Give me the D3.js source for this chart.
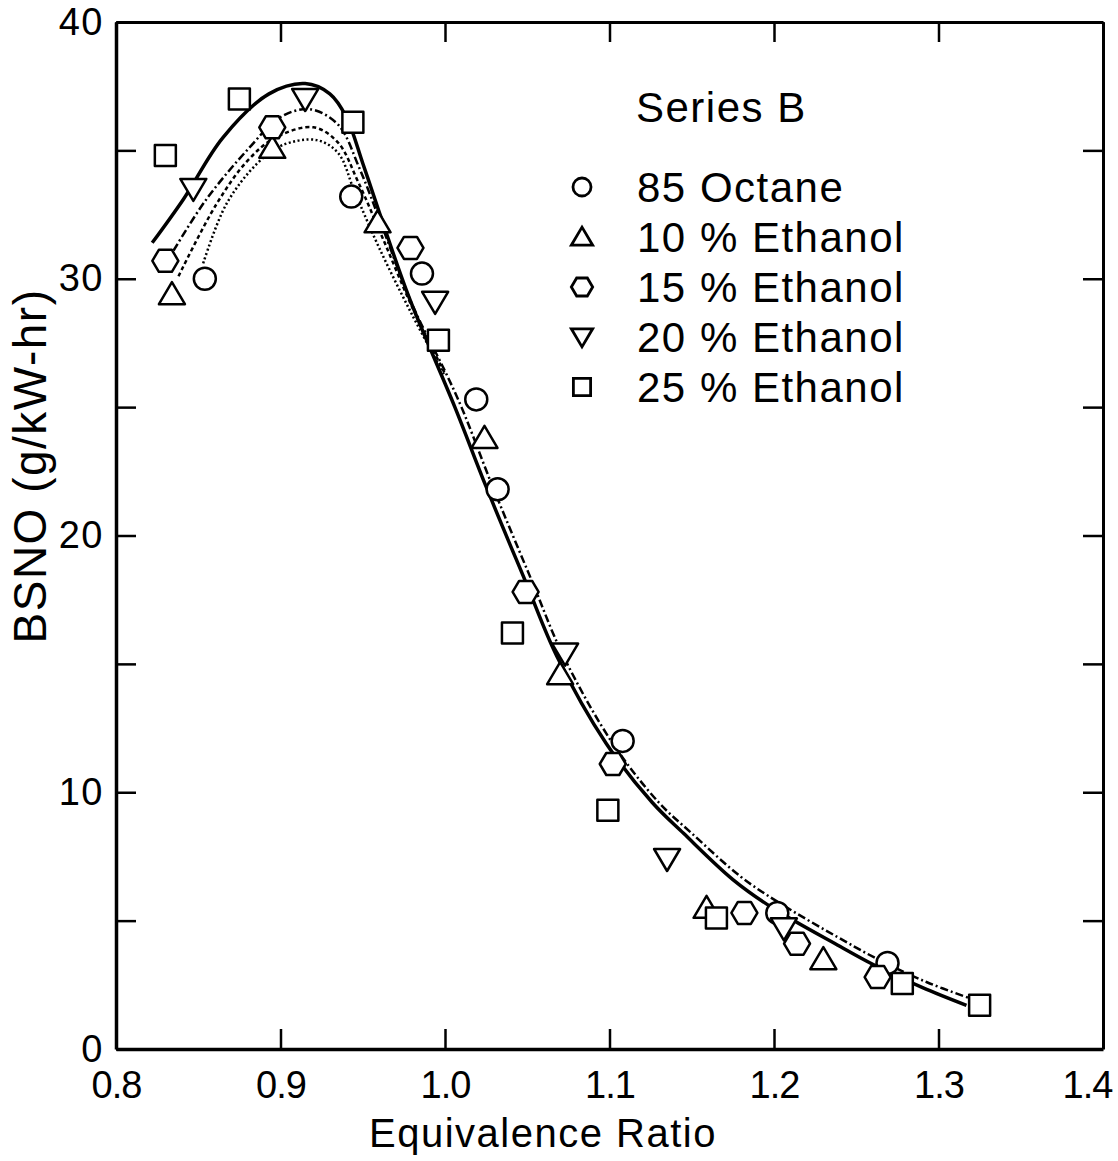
<!DOCTYPE html>
<html>
<head>
<meta charset="utf-8">
<script src="https://cdn.jsdelivr.net/npm/d3@7"></script>
<style>
	body { margin: 0; background: #fff; }
	svg { display: block; font-family: "Liberation Sans", "DejaVu Sans", sans-serif; }
	.axis path, .axis line { stroke: #000; }
	.axis text { fill: #000; }
</style>
</head>
<body>
<svg id="chart" width="1118" height="1161"></svg>
<script>
(function () {
	//DATA (equivalence ratio, BSNO g/kW-hr)
	var seriesNames = ["85 Octane", "10 % Ethanol", "15 % Ethanol", "20 % Ethanol", "25 % Ethanol"];
	var seriesShapes = ["circle", "triangle", "hexagon", "invtriangle", "square"];

	var octane = [[0.854, 30.0], [0.943, 33.2], [0.986, 30.2], [1.019, 25.3], [1.032, 21.8], [1.108, 12.0], [1.202, 5.3], [1.269, 3.35]];
	var ethanol10 = [[0.834, 29.4], [0.895, 35.1], [0.959, 32.2], [1.024, 23.8], [1.070, 14.6], [1.159, 5.5], [1.230, 3.5]];
	var ethanol15 = [[0.830, 30.7], [0.895, 35.9], [0.979, 31.2], [1.049, 17.8], [1.102, 11.1], [1.182, 5.3], [1.214, 4.1], [1.263, 2.8]];
	var ethanol20 = [[0.847, 33.5], [0.915, 37.0], [0.994, 29.1], [1.073, 15.4], [1.135, 7.4], [1.206, 4.7]];
	var ethanol25 = [[0.830, 34.8], [0.875, 37.0], [0.944, 36.1], [0.996, 27.6], [1.041, 16.2], [1.099, 9.3], [1.165, 5.1], [1.278, 2.55], [1.325, 1.7]];

	// fitted curves
	var curveSolid = [[0.822, 31.4], [0.841, 33.1], [0.865, 35.5], [0.893, 37.2], [0.915, 37.6], [0.930, 37.2], [0.940, 36.3], [0.950, 34.5], [0.960, 32.6], [0.978, 29.3], [1.006, 25.0], [1.025, 21.9], [1.049, 18.2], [1.068, 15.3], [1.098, 11.9], [1.126, 9.6], [1.145, 8.4], [1.175, 6.6], [1.199, 5.5], [1.240, 4.0], [1.260, 3.3], [1.290, 2.4], [1.317, 1.7]];
	var curveDashDot = [[0.835, 31.1], [0.855, 33.1], [0.881, 35.1], [0.900, 36.3], [0.918, 36.6], [0.935, 36.0], [0.948, 34.3], [0.962, 32.0], [0.980, 29.0], [1.000, 26.4], [1.010, 25.0], [1.029, 21.9], [1.053, 18.2], [1.072, 15.3], [1.102, 11.9], [1.130, 9.6], [1.150, 8.4], [1.180, 6.7], [1.203, 5.7], [1.243, 4.2], [1.263, 3.5], [1.293, 2.6], [1.318, 2.0]];
	var curveDotted = [[0.838, 30.1], [0.861, 32.9], [0.880, 34.6], [0.897, 35.5], [0.920, 35.9], [0.935, 35.3], [0.947, 33.8], [0.962, 31.6], [0.980, 28.9], [1.000, 26.3]];
	var curveFine = [[0.853, 30.6], [0.867, 32.9], [0.886, 34.5], [0.901, 35.2], [0.922, 35.4], [0.935, 34.9], [0.945, 33.4], [0.960, 31.2], [0.980, 28.6], [1.000, 26.2]];

	var xTicks = [0.8, 0.9, 1.0, 1.1, 1.2, 1.3, 1.4];
	var yTicks = [0, 5, 10, 15, 20, 25, 30, 35, 40];
	var yLabels = [0, 10, 20, 30, 40];

	var svg = d3.select("#chart");
	var x = d3.scaleLinear().domain([0.8, 1.4]).range([116, 1103]);
	var y = d3.scaleLinear().domain([0, 40]).range([1049, 22]);

	drawAxes();
	drawCurves();
	drawPoints([octane, ethanol10, ethanol15, ethanol20, ethanol25]);
	drawLegend();

	function shapePath(type, s) {
		if (type === "circle") return d3.symbol(d3.symbolCircle, Math.PI * 11 * 11 * s * s)();
		if (type === "square") return d3.symbol(d3.symbolSquare, 21 * 21 * s * s)();
		var pts;
		if (type === "hexagon") pts = [[13, 0], [6.5, 11], [-6.5, 11], [-13, 0], [-6.5, -11], [6.5, -11]];
		if (type === "triangle") pts = [[0, -12], [13, 10], [-13, 10]];
		if (type === "invtriangle") pts = [[0, 12], [13, -10], [-13, -10]];
		return "M" + pts.map(function (p) { return (p[0] * s) + "," + (p[1] * s); }).join("L") + "Z";
	}

	function drawAxes() {
		svg.append("g").attr("class", "axis")
			.attr("transform", "translate(0,1049)")
			.call(d3.axisBottom(x).tickValues(xTicks).tickSize(-20).tickSizeOuter(0).tickPadding(22)
				.tickFormat(function (d) { return d.toFixed(1); }))
			.call(function (g) {
				g.select(".domain").attr("stroke-width", 3.5);
				g.selectAll("line").attr("stroke-width", 2.5);
				g.selectAll("text").attr("font-size", 38).attr("letter-spacing", -1)
					.attr("dx", function (d) { return d === 1.4 ? -16 : 0; });
			});

		svg.append("g").attr("class", "axis")
			.attr("transform", "translate(0,22)")
			.call(d3.axisTop(x).tickValues(xTicks).tickSize(-20).tickSizeOuter(0).tickFormat(""))
			.call(function (g) {
				g.select(".domain").attr("stroke-width", 3);
				g.selectAll("line").attr("stroke-width", 2.5);
			});

		svg.append("g").attr("class", "axis")
			.attr("transform", "translate(116,0)")
			.call(d3.axisLeft(y).tickValues(yTicks).tickSize(-20).tickSizeOuter(0).tickPadding(12)
				.tickFormat(function (d) { return yLabels.indexOf(d) >= 0 ? d : ""; }))
			.call(function (g) {
				g.select(".domain").attr("stroke-width", 3.5);
				g.selectAll("line").attr("stroke-width", 2.5);
				g.selectAll("text").attr("font-size", 38).attr("letter-spacing", 1.5);
			});

		svg.append("g").attr("class", "axis")
			.attr("transform", "translate(1103,0)")
			.call(d3.axisRight(y).tickValues(yTicks).tickSize(-20).tickSizeOuter(0).tickFormat(""))
			.call(function (g) {
				g.select(".domain").attr("stroke-width", 3);
				g.selectAll("line").attr("stroke-width", 2.5);
			});

		svg.append("text")
			.attr("x", 543).attr("y", 1147)
			.attr("text-anchor", "middle")
			.attr("font-size", 40).attr("letter-spacing", 1.5)
			.text("Equivalence Ratio");

		svg.append("text")
			.attr("transform", "translate(46,466) rotate(-90)")
			.attr("text-anchor", "middle")
			.attr("font-size", 46).attr("letter-spacing", 1.5)
			.text("BSNO  (g/kW-hr)");
	}

	function drawCurves() {
		var line = d3.line()
			.x(function (d) { return x(d[0]); })
			.y(function (d) { return y(d[1]); })
			.curve(d3.curveCatmullRom.alpha(0.5));

		var curves = [
			{ data: curveFine, width: 2.5, dash: "2,2.5" },
			{ data: curveDotted, width: 2.5, dash: "4,3" },
			{ data: curveDashDot, width: 2.5, dash: "8,3,2,3" },
			{ data: curveSolid, width: 3.5, dash: null }
		];

		svg.selectAll(".fit")
			.data(curves).enter().append("path")
			.attr("class", "fit")
			.attr("d", function (d) { return line(d.data); })
			.attr("fill", "none")
			.attr("stroke", "#000")
			.attr("stroke-width", function (d) { return d.width; })
			.attr("stroke-dasharray", function (d) { return d.dash; });
	}

	function drawPoints(allSeries) {
		allSeries.forEach(function (data, i) {
			svg.selectAll(".pt" + i)
				.data(data).enter().append("path")
				.attr("class", "pt" + i)
				.attr("transform", function (d) { return "translate(" + x(d[0]) + "," + y(d[1]) + ")"; })
				.attr("d", shapePath(seriesShapes[i], 1))
				.attr("fill", "#fff")
				.attr("stroke", "#000")
				.attr("stroke-width", 2.5)
				.attr("stroke-linejoin", "round");
		});
	}

	function drawLegend() {
		svg.append("text")
			.attr("x", 636).attr("y", 122)
			.attr("font-size", 42).attr("letter-spacing", 1.5)
			.text("Series  B");

		var rows = svg.selectAll(".legend")
			.data(seriesNames).enter().append("g")
			.attr("class", "legend")
			.attr("transform", function (d, i) { return "translate(0," + (187 + 50 * i) + ")"; });

		rows.append("path")
			.attr("transform", "translate(582,0)")
			.attr("d", function (d, i) { return shapePath(seriesShapes[i], 0.82); })
			.attr("fill", "#fff")
			.attr("stroke", "#000")
			.attr("stroke-width", 2.8);

		rows.append("text")
			.attr("x", 637).attr("y", 15)
			.attr("font-size", 42).attr("letter-spacing", 1.5)
			.text(function (d) { return d.replace(" ", "  "); });
	}
})();
</script>
</body>
</html>
